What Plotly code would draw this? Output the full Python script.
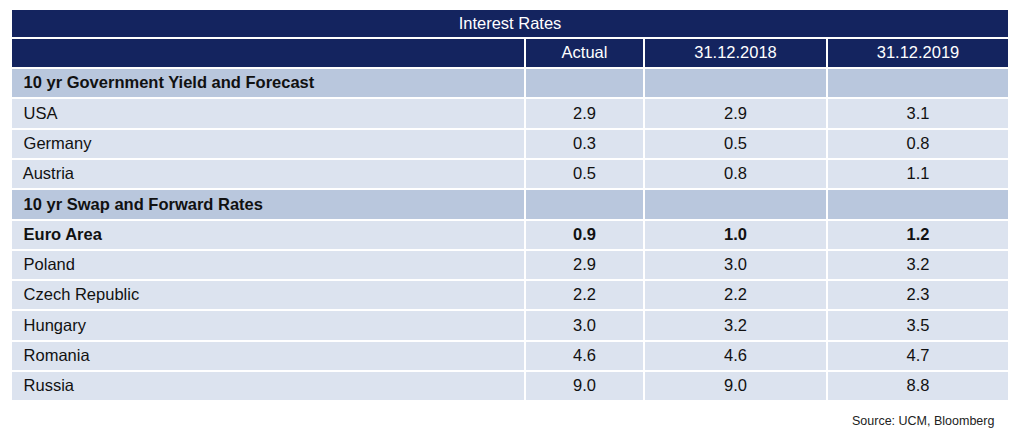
import plotly.graph_objects as go

title = "Interest Rates"
columns = ["", "Actual", "31.12.2018", "31.12.2019"]
rows = ["10 yr Government Yield and Forecast", "USA", "Germany", "Austria",
        "10 yr Swap and Forward Rates", "Euro Area", "Poland", "Czech Republic",
        "Hungary", "Romania", "Russia"]
actual = [None, 2.9, 0.3, 0.5, None, 0.9, 2.9, 2.2, 3.0, 4.6, 9.0]
y2018 = [None, 2.9, 0.5, 0.8, None, 1.0, 3.0, 2.2, 3.2, 4.6, 9.0]
y2019 = [None, 3.1, 0.8, 1.1, None, 1.2, 3.2, 2.3, 3.5, 4.7, 8.8]
sections = ["10 yr Government Yield and Forecast", "10 yr Swap and Forward Rates"]
bold_rows = sections + ["Euro Area"]

NAVY = "#14245f"
SECTION = "#b9c7dd"
ROW = "#dce3ef"
W, H = 1024, 448
OFF = 8  # page body margin
x0, x1 = (11 - OFF) / W, (1009 - OFF) / W
FONT = "Liberation Sans, Arial"


def fmt(v):
    return "" if v is None else f"{v:.1f}"


first_col = [" " + r for r in rows]
cols = [first_col] + [[fmt(v) for v in s] for s in (actual, y2018, y2019)]
fills = [SECTION if r in sections else ROW for r in rows]
weights = ["bold" if r in bold_rows else "normal" for r in rows]

fig = go.Figure()

# merged title row
fig.add_trace(go.Table(
    domain=dict(x=[x0, x1], y=[1 - (39 - OFF) / H, 1 - (9 - OFF) / H]),
    header=dict(values=[title], fill_color=NAVY, line=dict(color="white", width=2),
                font=dict(family=FONT, size=16.5, color="white"),
                align="center", height=29),
    cells=dict(values=[[]], height=1),
))

fig.add_trace(go.Table(
    domain=dict(x=[x0, x1], y=[0, 1 - (38 - OFF) / H]),
    columnwidth=[514, 119, 183, 182],
    header=dict(values=columns, fill_color=NAVY, line=dict(color="white", width=2),
                font=dict(family=FONT, size=16.5, color="white"),
                align="center", height=30),
    cells=dict(values=cols, fill_color=[fills] * 4, line=dict(color="white", width=2),
               font=dict(family=FONT, size=16.5, color="#111111"),
               align=["left", "center", "center", "center"], height=30.3),
))
# per-cell weight (2D) is fine for plotly.js but rejected by the python validator
fig._data[1]["cells"]["font"]["weight"] = [weights] * 4

fig.add_annotation(text="Source: UCM, Bloomberg", xref="paper", yref="paper",
                   x=(996 - OFF) / W, y=1 - (421 - OFF) / H, xanchor="right", yanchor="middle",
                   showarrow=False,
                   font=dict(family=FONT, size=12.5, color="#222222"))

fig.update_layout(width=W, height=H, margin=dict(l=0, r=0, t=0, b=0),
                  paper_bgcolor="white", plot_bgcolor="white")

fig.write_html("out.html")
